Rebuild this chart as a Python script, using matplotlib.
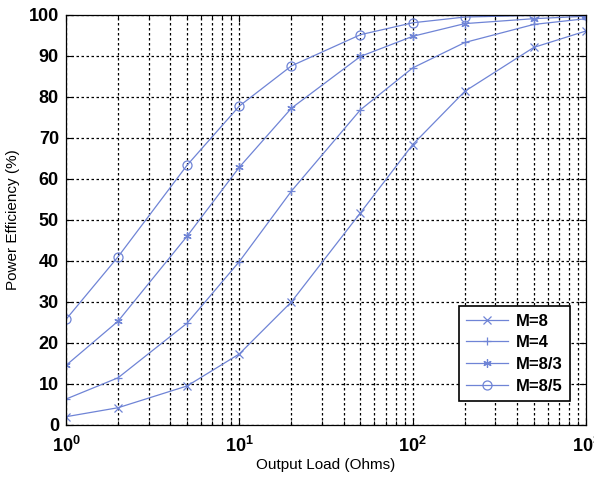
import matplotlib
matplotlib.use('Agg')
import matplotlib.pyplot as plt
from matplotlib.ticker import LogLocator, NullFormatter

plt.rcParams['font.family'] = ['Liberation Sans', 'DejaVu Sans']

load = [1, 2, 5, 10, 20, 50, 100, 200, 500, 1000]
eff_m8 = [2.0, 4.2, 9.5, 17.3, 30.0, 51.7, 68.3, 81.3, 92.0, 96.0]
eff_m4 = [6.3, 11.5, 24.8, 39.8, 57.0, 76.8, 87.0, 93.2, 97.6, 99.0]
eff_m83 = [14.5, 25.3, 46.0, 62.8, 77.2, 89.8, 94.7, 97.8, 99.0, 99.6]
eff_m85 = [25.7, 41.0, 63.3, 77.7, 87.5, 95.1, 98.0, 99.4, 99.8, 99.9]
labels = ['M=8', 'M=4', 'M=8/3', 'M=8/5']
markers = ['x', '+', (6, 2, 0), 'o']

col = '#6f84d6'

fig = plt.figure(figsize=(5.94, 4.78), dpi=100)
ax = fig.add_axes([0.111, 0.111, 0.8755, 0.8585])

for y, lab, mk in zip([eff_m8, eff_m4, eff_m83, eff_m85], labels, markers):
    if mk == 'o':
        ax.plot(load, y, color=col, lw=0.9, marker=mk, ms=6.5, mfc='none',
                mec=col, mew=0.9, label=lab)
    else:
        ax.plot(load, y, color=col, lw=0.9, marker=mk, ms=6,
                mec=col, mew=0.9, label=lab)

ax.set_xscale('log')
ax.set_xlim(1, 1000)
ax.set_ylim(0, 100)
ax.set_yticks(range(0, 101, 10))
ax.xaxis.set_major_locator(LogLocator(base=10, numticks=10))
ax.xaxis.set_minor_locator(LogLocator(base=10, subs=range(2, 10), numticks=10))
ax.xaxis.set_minor_formatter(NullFormatter())

ax.grid(True, which='major', color='black', linestyle=(0, (2, 2)), lw=0.9)
ax.grid(True, which='minor', axis='x', color='black', linestyle=(0, (2, 2)), lw=0.9)
ax.tick_params(which='both', direction='in', top=True, right=True,
               labelsize=13, length=5, width=0.8, pad=5)
ax.tick_params(axis='x', which='major', pad=8)
ax.tick_params(which='minor', length=3)
for lbl in ax.get_xticklabels() + ax.get_yticklabels():
    lbl.set_fontweight('bold')
for s in ax.spines.values():
    s.set_linewidth(0.9)

ax.set_xlabel('Output Load (Ohms)', fontsize=11, labelpad=1)
ax.set_ylabel('Power Efficiency (%)', fontsize=11, labelpad=6)

leg = ax.legend(loc='lower right', bbox_to_anchor=(0.986, 0.038),
                prop={'size': 12, 'weight': 'bold'},
                fancybox=False, edgecolor='black', framealpha=1,
                handlelength=2.5, borderpad=0.45, labelspacing=0.4,
                handletextpad=0.5)
leg.get_frame().set_linewidth(1.2)

fig.savefig('out.png', dpi=100)
